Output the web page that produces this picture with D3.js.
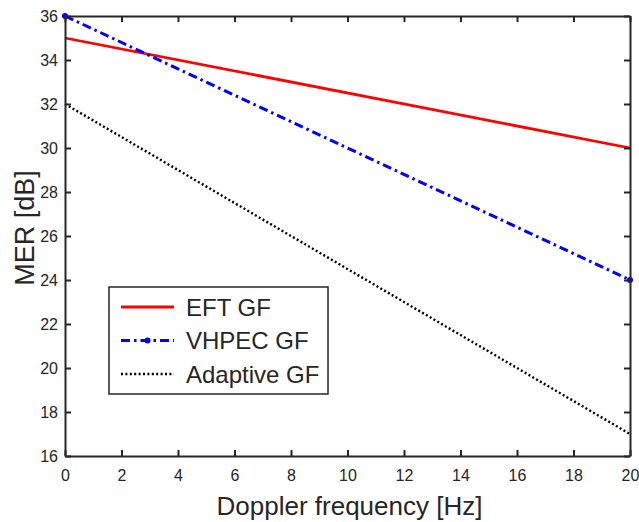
<!DOCTYPE html>
<html>
<head>
  <meta charset="utf-8">
  <title>MER vs Doppler</title>
  <script src="https://d3js.org/d3.v7.min.js"></script>
  <style>
    body { margin: 0; background: #fff; }
    text { font-family: "Liberation Sans", Arial, sans-serif; fill: #262626; }
  </style>
</head>
<body>
  <svg id="chart"></svg>
  <script>
    // data
    var doppler = [0, 20];
    var eftGF = [35, 30];
    var vhpecGF = [36, 24];
    var adaptiveGF = [32, 17];
    var xTicks = [0, 2, 4, 6, 8, 10, 12, 14, 16, 18, 20];
    var yTicks = [16, 18, 20, 22, 24, 26, 28, 30, 32, 34, 36];

    var series = [
      { name: "EFT GF", values: eftGF, color: "#ff0000", width: 2.8, dash: null, marker: false },
      { name: "VHPEC GF", values: vhpecGF, color: "#0000ff", width: 3, dash: "9,4,2.5,4", marker: true },
      { name: "Adaptive GF", values: adaptiveGF, color: "#000000", width: 2.4, dash: "2,2.4", marker: false }
    ];

    var W = 639, H = 522;
    var m = { left: 65, right: 9, top: 16, bottom: 66 };

    var svg = d3.select("#chart").attr("width", W).attr("height", H);

    var x = d3.scaleLinear().domain([0, 20]).range([m.left, W - m.right]);
    var y = d3.scaleLinear().domain([16, 36]).range([H - m.bottom, m.top]);

    // lines
    var line = d3.line()
      .x(function(d, i) { return x(doppler[i]); })
      .y(function(d) { return y(d); });

    series.forEach(function(s) {
      svg.append("path")
        .datum(s.values)
        .attr("fill", "none")
        .attr("stroke", s.color)
        .attr("stroke-width", s.width)
        .attr("stroke-dasharray", s.dash)
        .attr("d", line);
      if (s.marker) {
        svg.selectAll(null)
          .data(s.values)
          .enter().append("circle")
          .attr("cx", function(d, i) { return x(doppler[i]); })
          .attr("cy", function(d) { return y(d); })
          .attr("r", 3)
          .attr("fill", s.color);
      }
    });

    // axes (ticks inside, box)
    var axColor = "#262626";
    var axBottom = svg.append("g").attr("transform", "translate(0," + (H - m.bottom) + ")")
      .call(d3.axisBottom(x).tickValues(xTicks).tickSizeInner(-6).tickSizeOuter(0).tickPadding(14));
    var axLeft = svg.append("g").attr("transform", "translate(" + m.left + ",0)")
      .call(d3.axisLeft(y).tickValues(yTicks).tickSizeInner(-6).tickSizeOuter(0).tickPadding(7));
    var axTop = svg.append("g").attr("transform", "translate(0," + m.top + ")")
      .call(d3.axisTop(x).tickValues(xTicks).tickSizeInner(-6).tickSizeOuter(0).tickFormat(""));
    var axRight = svg.append("g").attr("transform", "translate(" + (W - m.right) + ",0)")
      .call(d3.axisRight(y).tickValues(yTicks).tickSizeInner(-6).tickSizeOuter(0).tickFormat(""));

    [axBottom, axLeft, axTop, axRight].forEach(function(g) {
      g.selectAll("path, line").attr("stroke", axColor).attr("stroke-width", 2);
      g.selectAll("text").attr("font-size", 16).attr("fill", axColor)
        .style("font-family", "'Liberation Sans', Arial, sans-serif");
    });

    // axis labels
    svg.append("text")
      .attr("x", (m.left + W - m.right) / 2 + 2)
      .attr("y", 515)
      .attr("text-anchor", "middle")
      .attr("font-size", 26)
      .text("Doppler frequency [Hz]");

    svg.append("text")
      .attr("transform", "translate(34," + ((m.top + H - m.bottom) / 2 - 8) + ") rotate(-90)")
      .attr("text-anchor", "middle")
      .attr("font-size", 27)
      .text("MER [dB]");

    // legend
    var lg = svg.append("g").attr("transform", "translate(109,287)");
    lg.append("rect")
      .attr("width", 219).attr("height", 107)
      .attr("fill", "#fff").attr("stroke", axColor).attr("stroke-width", 1.5);

    series.forEach(function(s, i) {
      var cy = 20 + i * 33.5;
      lg.append("line")
        .attr("x1", 12).attr("x2", 65).attr("y1", cy).attr("y2", cy)
        .attr("stroke", s.color).attr("stroke-width", s.width)
        .attr("stroke-dasharray", s.dash);
      if (s.marker) {
        lg.append("circle").attr("cx", 38.5).attr("cy", cy).attr("r", 3).attr("fill", s.color);
      }
      lg.append("text")
        .attr("x", 77).attr("y", cy + 8.5)
        .attr("font-size", 24)
        .attr("fill", "#000")
        .text(s.name);
    });
  </script>
</body>
</html>
